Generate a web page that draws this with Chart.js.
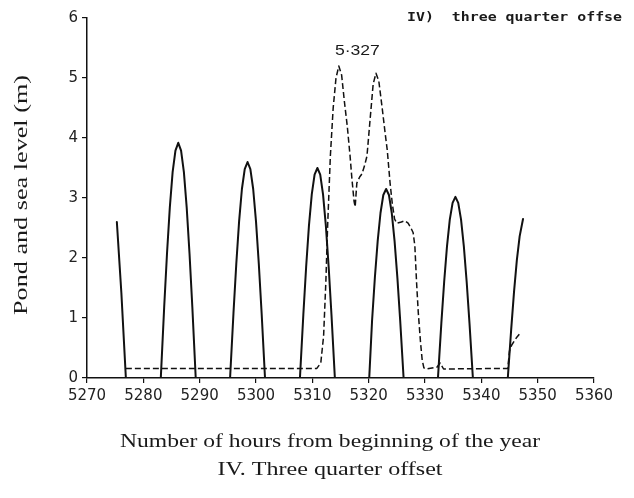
<!DOCTYPE html>
<html>
<head>
<meta charset="utf-8">
<script src="https://cdn.jsdelivr.net/npm/chart.js@4/dist/chart.umd.min.js"></script>
<style>
  html, body { margin: 0; padding: 0; background: #ffffff; }
  #wrap { width: 634px; height: 498px; position: relative; }
</style>
</head>
<body>
<div id="wrap"><canvas id="c" width="634" height="498"></canvas></div>
<script>
// ---- data ----
const xTickValues = [5270, 5280, 5290, 5300, 5310, 5320, 5330, 5340, 5350, 5360];
const yTickValues = [0, 1, 2, 3, 4, 5, 6];

// Sea level (solid line), metres
const seaHours = [
  5275.3, 5276.1, 5276.9,
  5283.1, 5283.7, 5284.2, 5284.7, 5285.2, 5285.7, 5286.2, 5286.7, 5287.2, 5287.7, 5288.2, 5288.7, 5289.3,
  5295.4, 5296.0, 5296.5, 5297.0, 5297.5, 5298.0, 5298.5, 5299.0, 5299.5, 5300.0, 5300.5, 5301.0, 5301.6,
  5307.8, 5308.4, 5308.9, 5309.4, 5309.9, 5310.4, 5310.9, 5311.4, 5311.9, 5312.4, 5312.9, 5313.4, 5314.0,
  5320.1, 5320.6, 5321.1, 5321.6, 5322.1, 5322.6, 5323.1, 5323.6, 5324.1, 5324.6, 5325.1, 5325.6, 5326.2,
  5332.3, 5332.9, 5333.4, 5333.9, 5334.4, 5334.9, 5335.4, 5335.9, 5336.4, 5336.9, 5337.4, 5337.9, 5338.5,
  5344.7, 5345.3, 5345.8, 5346.3, 5346.8, 5347.4
];
const seaLevel = [
  2.6, 1.42, 0,
  0, 1.18, 2.07, 2.84, 3.43, 3.79, 3.92, 3.79, 3.43, 2.84, 2.07, 1.18, 0,
  0, 1.08, 1.9, 2.61, 3.15, 3.48, 3.6, 3.48, 3.15, 2.61, 1.9, 1.08, 0,
  0, 1.05, 1.85, 2.54, 3.06, 3.39, 3.5, 3.39, 3.06, 2.54, 1.85, 1.05, 0,
  0, 0.95, 1.67, 2.28, 2.75, 3.05, 3.15, 3.05, 2.75, 2.28, 1.67, 0.95, 0,
  0, 0.91, 1.6, 2.19, 2.64, 2.92, 3.02, 2.92, 2.64, 2.19, 1.6, 0.91, 0,
  0, 0.81, 1.43, 1.96, 2.36, 2.65
];

// Pond level (dashed line), metres
const pondHours = [
  5276.9, 5310.8, 5311.5, 5312.0, 5312.4, 5312.7, 5313.2, 5313.7, 5314.2, 5314.7,
  5315.2, 5315.7, 5316.2, 5316.7, 5317.0, 5317.4, 5317.6, 5317.9, 5318.4, 5318.8,
  5319.3, 5319.7, 5320.2, 5320.8, 5321.3, 5321.8, 5322.4, 5322.9, 5323.3, 5323.8,
  5324.2, 5324.6, 5325.0, 5325.8, 5326.4, 5327.0, 5327.5, 5327.9, 5328.2, 5328.5,
  5328.8, 5329.2, 5329.5, 5329.8, 5330.2, 5332.1, 5332.7, 5333.3, 5344.7, 5345.0,
  5345.4, 5346.3, 5347.0
];
const pondLevel = [
  0.16, 0.16, 0.25, 0.7, 1.6, 2.5, 3.7, 4.5, 5.0, 5.2,
  5.05, 4.6, 4.2, 3.7, 3.35, 2.95, 2.85, 3.25, 3.35, 3.4,
  3.55, 3.7, 4.25, 4.9, 5.08, 4.95, 4.5, 4.1, 3.8, 3.25,
  2.9, 2.65, 2.58, 2.6, 2.62, 2.58, 2.5, 2.42, 2.2, 1.6,
  1.1, 0.6, 0.3, 0.17, 0.15, 0.18, 0.25, 0.15, 0.16, 0.45,
  0.55, 0.68, 0.76
];

const peakLabel = "5·327";
const panelLabel = "IV)  three quarter offse";
const yTitle = "Pond and sea level (m)";
const xTitle = ["Number of hours from beginning of the year", "IV. Three quarter offset"];

// ---- build chart ----
const toPts = (xs, ys) => xs.map((x, i) => ({ x: x, y: ys[i] }));

function stretchedText(ctx, text, cx, cy, font, targetWidth, rotate, align) {
  ctx.save();
  ctx.font = font;
  const w = ctx.measureText(text).width;
  ctx.translate(cx, cy);
  if (rotate) ctx.rotate(-Math.PI / 2);
  ctx.scale(targetWidth / w, 1);
  ctx.textAlign = align || 'center';
  ctx.textBaseline = 'middle';
  ctx.fillStyle = '#1a1a1a';
  ctx.fillText(text, 0, 0);
  ctx.restore();
}

const textPlugin = {
  id: 'figureTexts',
  afterDraw(chart) {
    const ctx = chart.ctx;
    stretchedText(ctx, yTitle, 22, 195, '18px "Liberation Serif"', 240, true);
    stretchedText(ctx, xTitle[0], 330, 442, '18px "Liberation Serif"', 420, false);
    stretchedText(ctx, xTitle[1], 330, 470, '18px "Liberation Serif"', 225, false);
    stretchedText(ctx, panelLabel, 407, 18, 'bold 13px "DejaVu Sans Mono"', 215, false, 'left');
    // peak annotation placed by the data scales
    const xs = chart.scales.x, ys = chart.scales.y;
    const px = xs.getPixelForValue(5318.0);
    const py = ys.getPixelForValue(5.45);
    stretchedText(ctx, peakLabel, px, py, '15px "Liberation Sans"', 45, false);
  }
};

new Chart(document.getElementById('c'), {
  type: 'line',
  data: {
    datasets: [
      {
        label: 'Sea level',
        data: toPts(seaHours, seaLevel),
        borderColor: '#111',
        borderWidth: 2,
        borderJoinStyle: 'round',
        borderCapStyle: 'round',
        pointRadius: 0,
        tension: 0,
        fill: false
      },
      {
        label: 'Pond level',
        data: toPts(pondHours, pondLevel),
        borderColor: '#111',
        borderWidth: 1.5,
        borderDash: [6, 3],
        borderJoinStyle: 'round',
        pointRadius: 0,
        tension: 0,
        fill: false
      }
    ]
  },
  options: {
    responsive: false,
    animation: false,
    devicePixelRatio: 1,
    layout: { padding: { left: 0, top: 18, right: 40, bottom: 0 } },
    plugins: { legend: { display: false }, tooltip: { enabled: false } },
    scales: {
      x: {
        type: 'linear',
        min: xTickValues[0],
        max: xTickValues[xTickValues.length - 1],
        afterBuildTicks: s => { s.ticks = xTickValues.map(v => ({ value: v })); },
        afterFit: s => { s.height = 120; },
        border: { display: true, color: '#111', width: 1.5 },
        grid: { drawOnChartArea: false, drawTicks: true, tickLength: 5, color: '#111', lineWidth: 1.2 },
        ticks: { color: '#222', padding: 4, maxRotation: 0, autoSkip: false,
                 callback: v => String(v),
                 font: { family: '"DejaVu Sans"', size: 15 } }
      },
      y: {
        type: 'linear',
        min: yTickValues[0],
        max: yTickValues[yTickValues.length - 1],
        afterBuildTicks: s => { s.ticks = yTickValues.map(v => ({ value: v })); },
        afterFit: s => { s.width = 87; },
        border: { display: true, color: '#111', width: 1.5 },
        grid: { drawOnChartArea: false, drawTicks: true, tickLength: 5, color: '#111', lineWidth: 1.2 },
        ticks: { color: '#222', padding: 4, callback: v => String(v),
                 font: { family: '"DejaVu Sans"', size: 15 } }
      }
    }
  },
  plugins: [textPlugin]
});
</script>
</body>
</html>
